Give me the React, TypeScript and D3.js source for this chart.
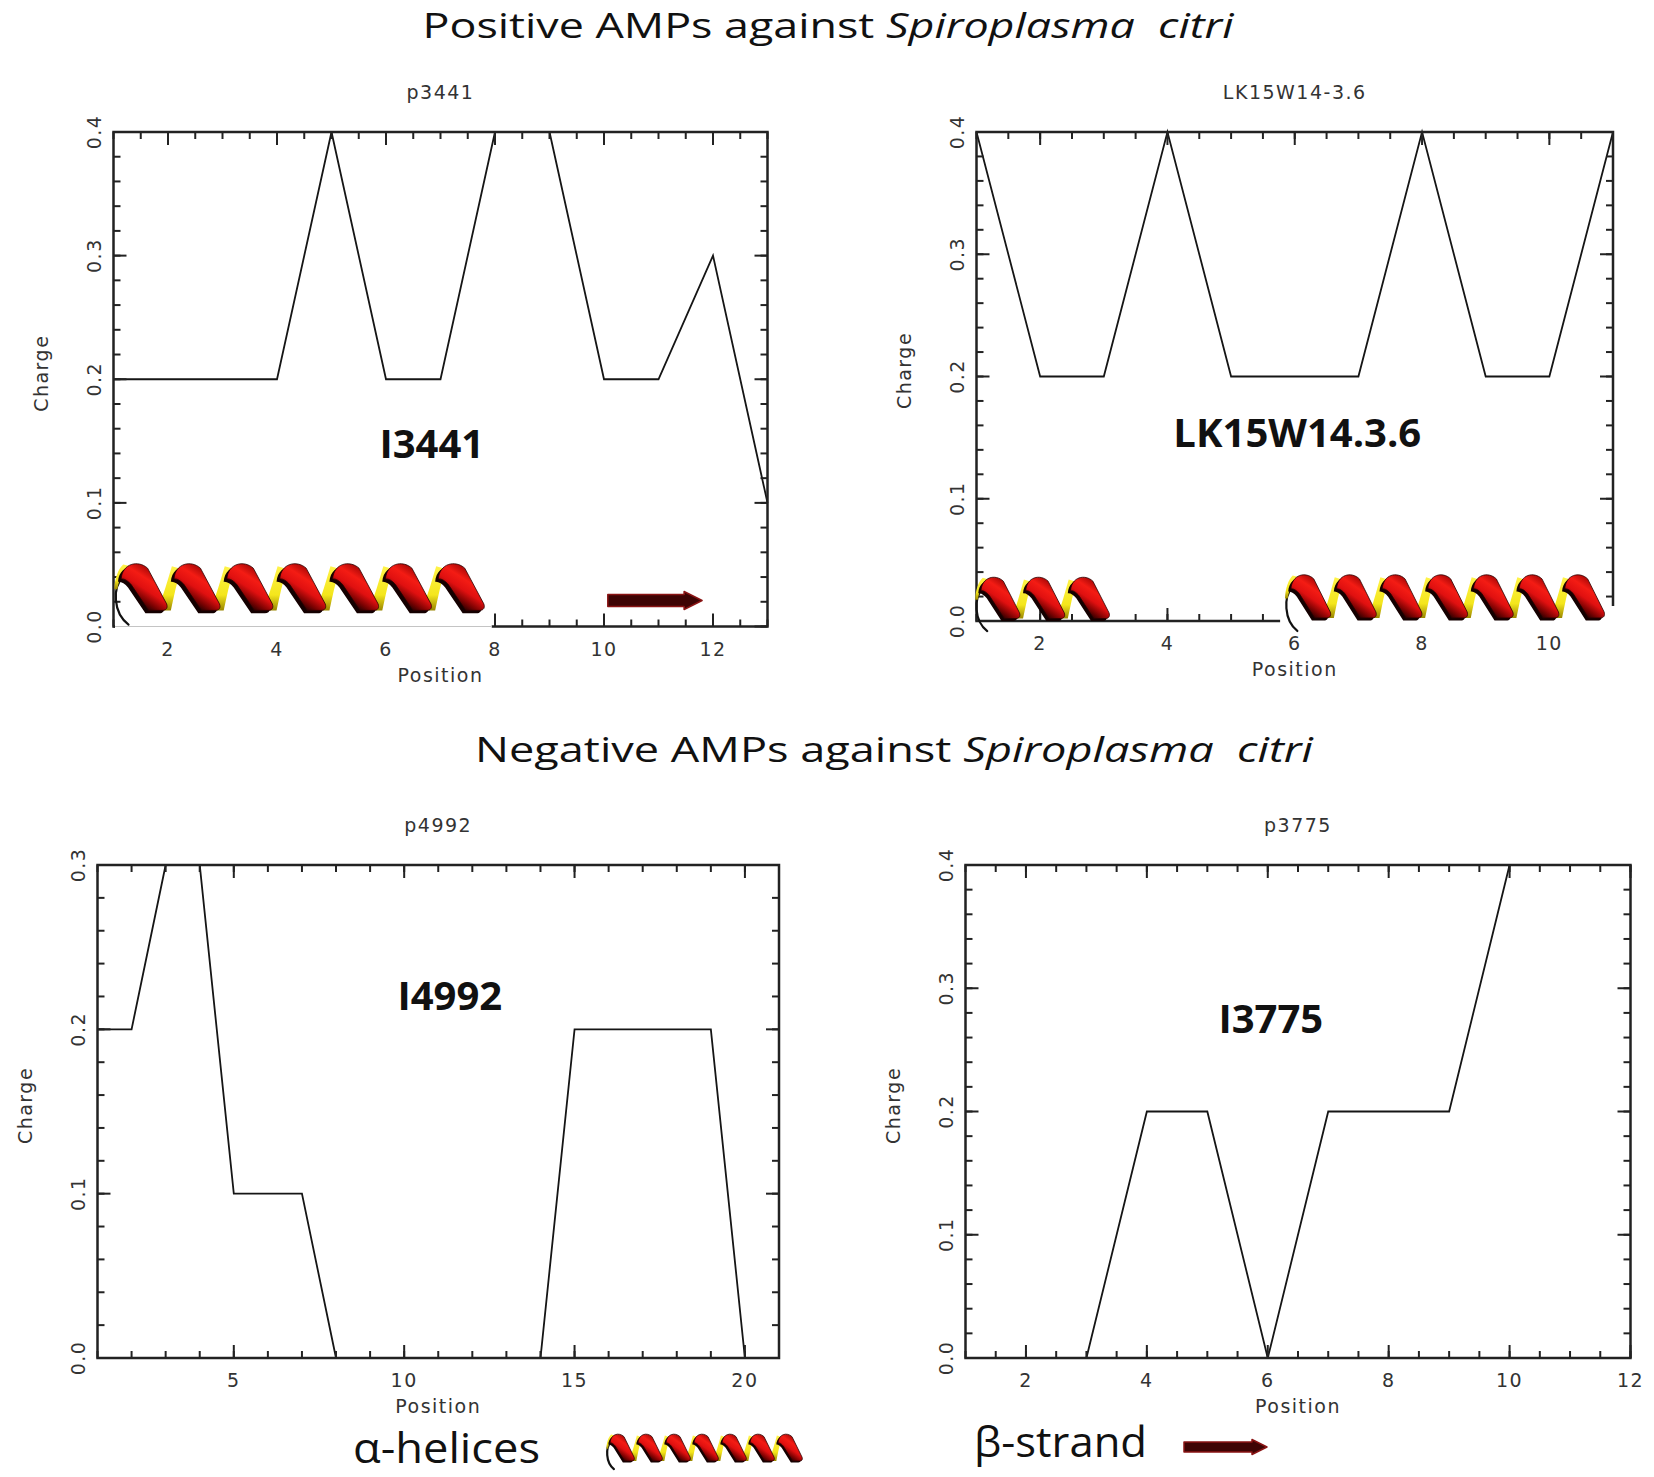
import * as d3 from 'd3'

const W = 1654
const H = 1477

// charge profiles
const p3441Pos = [1, 2, 3, 4, 5, 6, 7, 8, 9, 10, 11, 12, 13]
const p3441Charge = [0.2, 0.2, 0.2, 0.2, 0.4, 0.2, 0.2, 0.4, 0.4, 0.2, 0.2, 0.3, 0.1]
const lk15Pos = [1, 2, 3, 4, 5, 6, 7, 8, 9, 10, 11]
const lk15Charge = [0.4, 0.2, 0.2, 0.4, 0.2, 0.2, 0.2, 0.4, 0.2, 0.2, 0.4]
const p4992Pos = [1, 2, 3, 4, 5, 6, 7, 8, 9, 10, 11, 12, 13, 14, 15, 16, 17, 18, 19, 20, 21]
const p4992Charge = [0.2, 0.2, 0.3, 0.3, 0.1, 0.1, 0.1, 0, 0, 0, 0, 0, 0, 0, 0.2, 0.2, 0.2, 0.2, 0.2, 0, 0]
const p3775Pos = [1, 2, 3, 4, 5, 6, 7, 8, 9, 10, 11, 12]
const p3775Charge = [0, 0, 0, 0.2, 0.2, 0, 0.2, 0.2, 0.2, 0.4, 0.4, 0.4]

const xTicksP3441 = [2, 4, 6, 8, 10, 12]
const xTicksLk15 = [2, 4, 6, 8, 10]
const xTicksP4992 = [5, 10, 15, 20]
const xTicksP3775 = [2, 4, 6, 8, 10, 12]
const yTicks04 = [0, 0.1, 0.2, 0.3, 0.4]
const yTicks03 = [0, 0.1, 0.2, 0.3]

// secondary structure cartoons, in position / charge units
const p3441Helices = [{ start: 1.14, end: 7.93, turns: 7, top: 0.051, bottom: 0.013 }]
const p3441Strands = [{ start: 10.07, end: 11.8, y: 0.021 }]
const lk15Helices = [
  { start: 1.07, end: 3.18, turns: 3, top: 0.036, bottom: 0.002 },
  { start: 5.94, end: 10.96, turns: 7, top: 0.038, bottom: 0.0025 },
]

const idlFont = '"DejaVu Sans", sans-serif'
const slideFont = '"Open Sans", sans-serif'

interface Helix { start: number; end: number; turns: number; top: number; bottom: number }
interface Strand { start: number; end: number; y: number }
interface Box { left: number; right: number; top: number; bottom: number }

function HelixRibbon({ x0, x1, yTop, yBot, turns }: { x0: number; x1: number; yTop: number; yBot: number; turns: number }) {
  const p = (x1 - x0) / turns
  const h = yBot - yTop
  const pt = (i: number, u: number, v: number) => `${x0 + (i + u) * p},${yTop + v * h}`
  const reds: string[] = []
  const yellows: string[] = []
  for (let i = 0; i < turns; i++) {
    reds.push(
      `M${pt(i, 0, 0.33)} C${pt(i, 0.02, 0)} ${pt(i, 0.32, -0.08)} ${pt(i, 0.5, 0.1)} ` +
        `L${pt(i, 0.86, 0.86)} C${pt(i, 0.89, 0.95)} ${pt(i, 0.85, 1)} ${pt(i, 0.78, 1)} ` +
        `L${pt(i, 0.52, 1)} L${pt(i, 0.19, 0.45)} C${pt(i, 0.13, 0.37)} ${pt(i, 0.06, 0.32)} ${pt(i, 0, 0.33)}Z`
    )
    if (i > 0) {
      yellows.push(
        `M${pt(i, -0.32, 1)} L${pt(i, -0.06, 1)} C${pt(i, 0, 0.7)} ${pt(i, 0.05, 0.4)} ${pt(i, 0.14, 0.12)} ` +
          `L${pt(i, -0.04, 0.06)} C${pt(i, -0.12, 0.35)} ${pt(i, -0.2, 0.7)} ${pt(i, -0.32, 1)}Z`
      )
    } else {
      yellows.push(
        `M${pt(i, -0.07, 0.55)} C${pt(i, -0.04, 0.32)} ${pt(i, 0.04, 0.14)} ${pt(i, 0.18, 0.06)} ` +
          `L${pt(i, 0.04, 0.02)} C${pt(i, -0.06, 0.12)} ${pt(i, -0.12, 0.32)} ${pt(i, -0.13, 0.55)}Z`
      )
    }
  }
  const curl = `M${pt(0, 0.03, 0.3)} C${pt(0, -0.16, 0.5)} ${pt(0, -0.16, 1.05)} ${pt(0, 0.14, 1.3)}`
  const sx = -0.06 * p
  const sy = 0.06 * h
  return (
    <g>
      <path d={curl} fill="none" stroke="#111" strokeWidth={2.2} strokeLinecap="round" />
      {yellows.map((d, i) => (
        <path key={`y${i}`} d={d} fill="url(#yellowRibbon)" />
      ))}
      {reds.map((d, i) => (
        <path key={`s${i}`} d={d} fill="#140000" transform={`translate(${sx},${sy})`} />
      ))}
      {reds.map((d, i) => (
        <path key={`r${i}`} d={d} fill="url(#redRibbon)" stroke="#2a0000" strokeWidth={0.8} />
      ))}
    </g>
  )
}

function StrandArrow({ x0, x1, cy, shaft, head }: { x0: number; x1: number; cy: number; shaft: number; head: number }) {
  const hl = head
  const d =
    `M${x0},${cy - shaft / 2} L${x1 - hl},${cy - shaft / 2} L${x1 - hl},${cy - head / 2} L${x1},${cy} ` +
    `L${x1 - hl},${cy + head / 2} L${x1 - hl},${cy + shaft / 2} L${x0},${cy + shaft / 2}Z`
  return <path d={d} fill="#3e0404" stroke="#8a1414" strokeWidth={1.5} strokeLinejoin="round" />
}

interface PanelProps {
  name: string
  pos: number[]
  charge: number[]
  xDomain: [number, number]
  yMax: number
  xTicks: number[]
  xMinorStep: number
  yTicks: number[]
  box: Box
  label: { text: string; x: number; y: number }
  helices?: Helix[]
  strands?: Strand[]
  cover?: [number, number]
  faintAxis?: boolean
}

function Panel({ name, pos, charge, xDomain, yMax, xTicks, xMinorStep, yTicks, box, label, helices = [], strands = [], cover, faintAxis }: PanelProps) {
  const x = d3.scaleLinear().domain(xDomain).range([box.left, box.right])
  const y = d3.scaleLinear().domain([0, yMax]).range([box.bottom, box.top])
  const xMinor = d3.range(xDomain[0], xDomain[1] + 1e-6, xMinorStep)
  const yMinor = d3.range(0, yMax + 1e-6, 0.02)
  const linePath = d3
    .line<number>()
    .x((d) => x(d))
    .y((_, i) => y(charge[i]))(pos)
  const fmt = d3.format('.1f')
  const midX = (box.left + box.right) / 2
  const midY = (box.top + box.bottom) / 2

  let coverRect = null
  if (cover) {
    const cx0 = Math.max(x(cover[0]), box.left + 1.5)
    const cx1 = x(cover[1])
    coverRect = (
      <g>
        <rect x={cx0} y={box.bottom - 15} width={cx1 - cx0} height={18} fill="#fff" />
        {faintAxis && <line x1={cx0} x2={cx1} y1={box.bottom} y2={box.bottom} stroke="#c4c4c4" strokeWidth={1} />}
      </g>
    )
  }

  return (
    <g>
      <text x={midX} y={box.top - 33} textAnchor="middle" fontFamily={idlFont} fontSize={19} letterSpacing={1.5} fill="#333">
        {name}
      </text>

      <path d={linePath ?? ''} fill="none" stroke="#151515" strokeWidth={1.8} />

      <g stroke="#222" strokeWidth={2}>
        {xMinor.map((t, i) => (
          <g key={`xm${i}`}>
            <line x1={x(t)} x2={x(t)} y1={box.bottom} y2={box.bottom - 7} />
            <line x1={x(t)} x2={x(t)} y1={box.top} y2={box.top + 7} />
          </g>
        ))}
        {xTicks.map((t) => (
          <g key={`xM${t}`}>
            <line x1={x(t)} x2={x(t)} y1={box.bottom} y2={box.bottom - 13} />
            <line x1={x(t)} x2={x(t)} y1={box.top} y2={box.top + 13} />
          </g>
        ))}
        {yMinor.map((t, i) => (
          <g key={`ym${i}`}>
            <line x1={box.left} x2={box.left + 7} y1={y(t)} y2={y(t)} />
            <line x1={box.right} x2={box.right - 7} y1={y(t)} y2={y(t)} />
          </g>
        ))}
        {yTicks.map((t) => (
          <g key={`yM${t}`}>
            <line x1={box.left} x2={box.left + 13} y1={y(t)} y2={y(t)} />
            <line x1={box.right} x2={box.right - 13} y1={y(t)} y2={y(t)} />
          </g>
        ))}
      </g>
      <rect
        x={box.left}
        y={box.top}
        width={box.right - box.left}
        height={box.bottom - box.top}
        fill="none"
        stroke="#222"
        strokeWidth={2.5}
      />

      {coverRect}

      <g fontFamily={idlFont} fontSize={19} letterSpacing={1.5} fill="#333">
        {xTicks.map((t) => (
          <text key={`xl${t}`} x={x(t)} y={box.bottom + 29} textAnchor="middle">
            {t}
          </text>
        ))}
        {yTicks.map((t) => (
          <text
            key={`yl${t}`}
            transform={`translate(${box.left - 20},${y(t)}) rotate(-90)`}
            textAnchor="middle"
            dominantBaseline="central"
          >
            {fmt(t)}
          </text>
        ))}
        <text x={midX} y={box.bottom + 55} textAnchor="middle">
          Position
        </text>
        <text transform={`translate(${box.left - 73},${midY - 6}) rotate(-90)`} textAnchor="middle" dominantBaseline="central">
          Charge
        </text>
      </g>

      {helices.map((hx, i) => (
        <HelixRibbon key={`h${i}`} x0={x(hx.start)} x1={x(hx.end)} yTop={y(hx.top)} yBot={y(hx.bottom)} turns={hx.turns} />
      ))}
      {strands.map((s, i) => (
        <StrandArrow key={`s${i}`} x0={x(s.start)} x1={x(s.end)} cy={y(s.y)} shaft={12} head={18} />
      ))}

      <text
        x={x(label.x)}
        y={y(label.y)}
        textAnchor="middle"
        dominantBaseline="central"
        fontFamily={slideFont}
        fontWeight={700}
        fontSize={40}
        fill="#111"
      >
        {label.text}
      </text>
    </g>
  )
}

export default function App() {
  return (
    <svg width={W} height={H} viewBox={`0 0 ${W} ${H}`} style={{ position: 'absolute', left: 0, top: 0, background: '#fff' }}>
      <defs>
        <linearGradient id="redRibbon" x1="0.75" y1="0.15" x2="0.3" y2="0.85">
          <stop offset="0" stopColor="#a00404" />
          <stop offset="0.3" stopColor="#f41c14" />
          <stop offset="0.55" stopColor="#e01010" />
          <stop offset="0.8" stopColor="#7a0202" />
          <stop offset="1" stopColor="#1a0000" />
        </linearGradient>
        <linearGradient id="yellowRibbon" x1="0" y1="0" x2="0" y2="1">
          <stop offset="0" stopColor="#fff34a" />
          <stop offset="0.65" stopColor="#f4e61c" />
          <stop offset="1" stopColor="#9a8600" />
        </linearGradient>
      </defs>
      <rect width={W} height={H} fill="#fff" />

      <text x={828} y={38} textAnchor="middle" fontFamily={slideFont} fontSize={35} fontWeight={500} fill="#111" textLength={811} lengthAdjust="spacingAndGlyphs">
        Positive AMPs against <tspan fontStyle="italic">{'Spiroplasma\u00a0 citri'}</tspan>
      </text>

      <Panel
        name="p3441"
        pos={p3441Pos}
        charge={p3441Charge}
        xDomain={[1, 13]}
        yMax={0.4}
        xTicks={xTicksP3441}
        xMinorStep={0.5}
        yTicks={yTicks04}
        box={{ left: 113.5, right: 767.5, top: 132, bottom: 626.5 }}
        label={{ text: 'I3441', x: 6.84, y: 0.149 }}
        helices={p3441Helices}
        strands={p3441Strands}
        cover={[1, 7.94]}
        faintAxis
      />
      <Panel
        name="LK15W14-3.6"
        pos={lk15Pos}
        charge={lk15Charge}
        xDomain={[1, 11]}
        yMax={0.4}
        xTicks={xTicksLk15}
        xMinorStep={0.5}
        yTicks={yTicks04}
        box={{ left: 976.5, right: 1613, top: 132, bottom: 621 }}
        label={{ text: 'LK15W14.3.6', x: 6.04, y: 0.155 }}
        helices={lk15Helices}
        cover={[5.77, 11.04]}
      />

      <text x={894} y={762} textAnchor="middle" fontFamily={slideFont} fontSize={35} fontWeight={500} fill="#111" textLength={838} lengthAdjust="spacingAndGlyphs">
        Negative AMPs against <tspan fontStyle="italic">{'Spiroplasma\u00a0 citri'}</tspan>
      </text>

      <Panel
        name="p4992"
        pos={p4992Pos}
        charge={p4992Charge}
        xDomain={[1, 21]}
        yMax={0.3}
        xTicks={xTicksP4992}
        xMinorStep={1}
        yTicks={yTicks03}
        box={{ left: 97.5, right: 779, top: 865, bottom: 1358 }}
        label={{ text: 'I4992', x: 11.34, y: 0.2215 }}
      />
      <Panel
        name="p3775"
        pos={p3775Pos}
        charge={p3775Charge}
        xDomain={[1, 12]}
        yMax={0.4}
        xTicks={xTicksP3775}
        xMinorStep={0.5}
        yTicks={yTicks04}
        box={{ left: 965.5, right: 1630.5, top: 865, bottom: 1358 }}
        label={{ text: 'I3775', x: 6.05, y: 0.276 }}
      />

      {/* legend */}
      <text x={353} y={1463} fontFamily={slideFont} fontSize={42} fontWeight={500} fill="#111" textLength={187} lengthAdjust="spacingAndGlyphs">
        α-helices
      </text>
      <HelixRibbon x0={610} x1={806} yTop={1434} yBot={1461} turns={7} />
      <text x={974} y={1457} fontFamily={slideFont} fontSize={42} fontWeight={500} fill="#111" textLength={173} lengthAdjust="spacingAndGlyphs">
        β-strand
      </text>
      <StrandArrow x0={1184} x1={1267} cy={1447} shaft={10} head={15} />
    </svg>
  )
}
